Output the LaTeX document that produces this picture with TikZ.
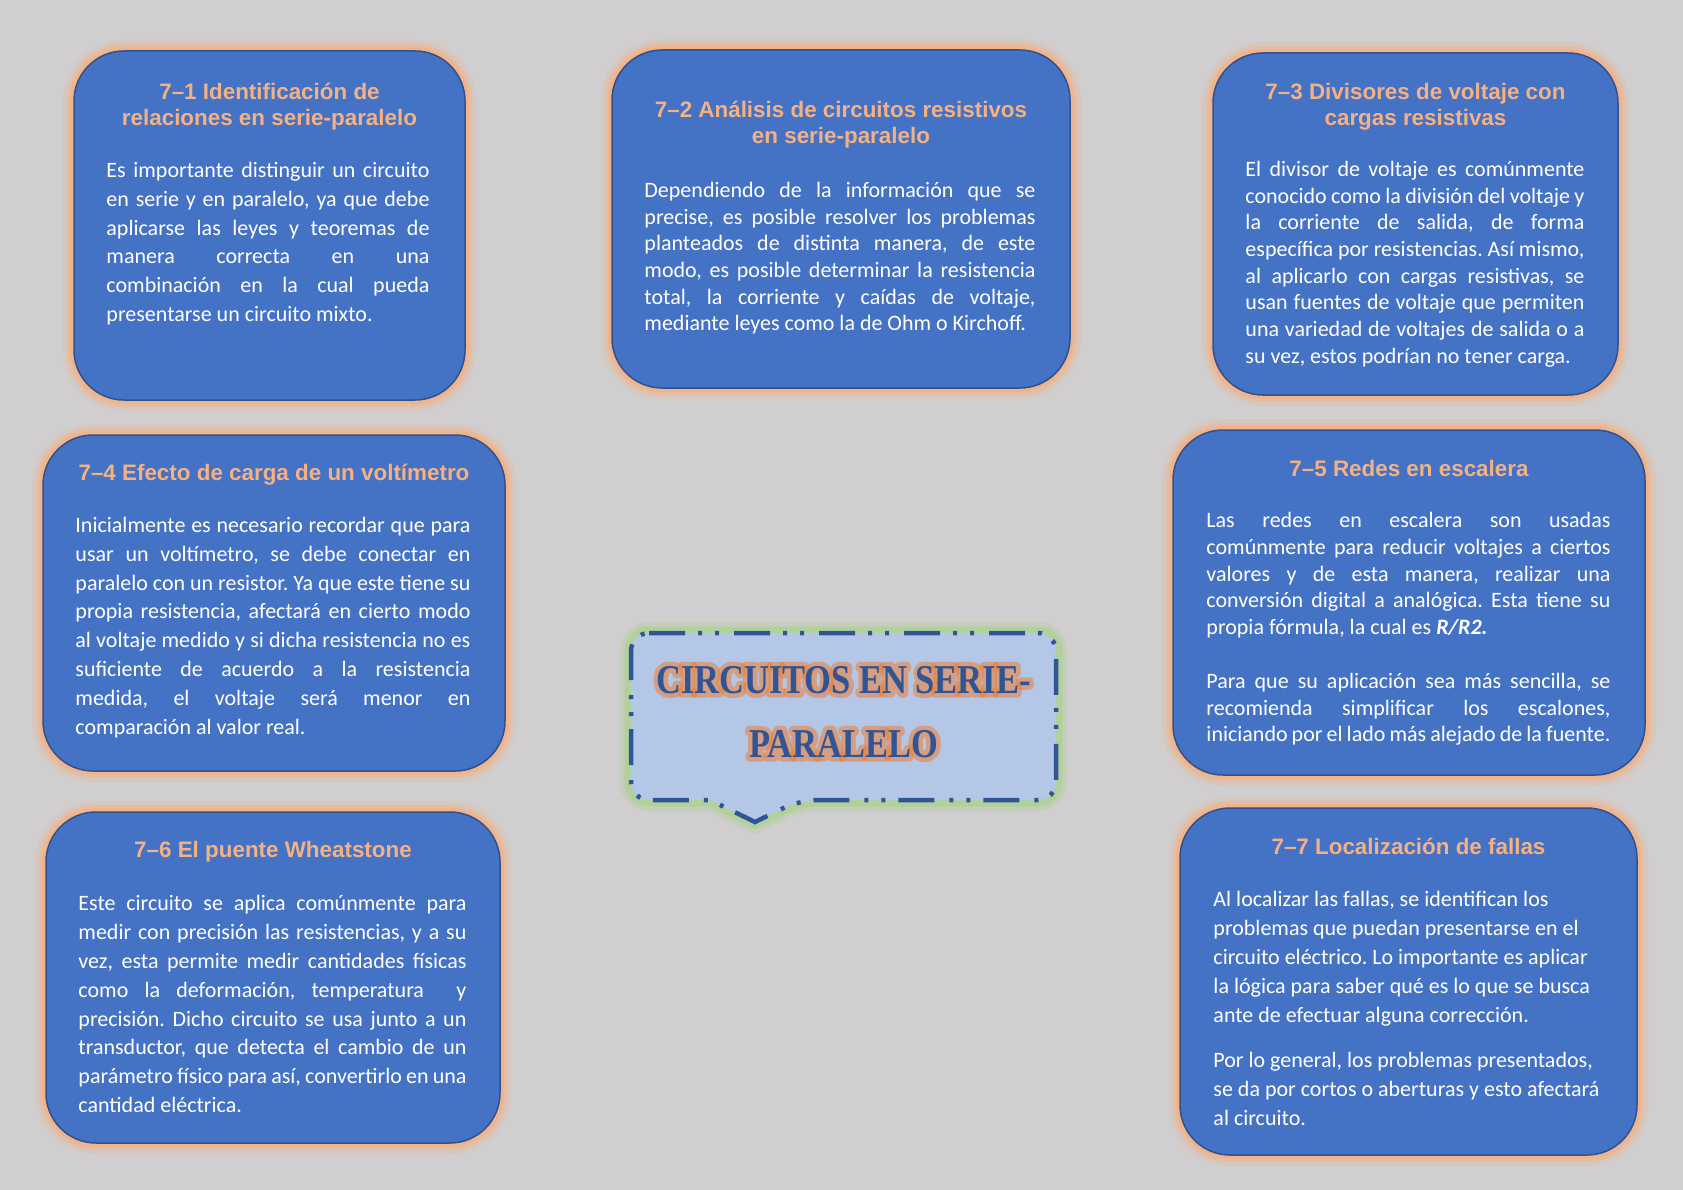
\documentclass[tikz,border=0pt]{standalone}
\usepackage{fontspec}
\setmainfont{Carlito}
\newfontfamily\headfont{Liberation Sans}
\newfontfamily\bannerfont{Liberation Serif Bold}[FakeStretch=0.84]
\newfontfamily\bannerglowfont{Liberation Serif Bold}[FakeStretch=0.84,FakeBold=22]
\usetikzlibrary{positioning}
\definecolor{bgGray}{RGB}{208,206,206}
\definecolor{boxBlue}{RGB}{68,114,196}
\definecolor{boxEdge}{RGB}{47,82,143}
\definecolor{glowOrange}{RGB}{244,177,131}
\definecolor{headPeach}{RGB}{244,177,131}
\definecolor{calloutFill}{RGB}{180,199,231}
\definecolor{calloutEdge}{RGB}{47,85,151}
\definecolor{glowGreen}{RGB}{169,209,142}
\definecolor{bannerOrange}{RGB}{237,125,49}

\newcommand{\jline}[1]{\hbox to\hsize{\strut#1}}
\newcommand{\rline}[1]{\hbox to\hsize{\strut#1\hfil}}
\newcommand{\textlines}[2]{\vbox{\hsize=#1\relax#2}}
\frenchspacing

\begin{document}
\begin{tikzpicture}[x=1pt,y=-1pt,
  topic/.style={rectangle,rounded corners=50pt,fill=boxBlue,draw=boxEdge,
  line width=1.5pt,inner sep=0pt,
  preaction={draw=glowOrange,line width=22pt,draw opacity=.2},
  preaction={draw=glowOrange,line width=14pt,draw opacity=.4},
  preaction={draw=glowOrange,line width=8pt,draw opacity=.8}},
  title/.style={font=\headfont\bfseries\fontsize{22.4}{25.7}\selectfont,
  text=headPeach,align=center,inner sep=0pt},
  body/.style={font={\fontsize{22}{#1}\selectfont},text=white,inner sep=0pt},
  callout/.style={fill=calloutFill,draw=calloutEdge,line width=4.5pt,
  rounded corners=18pt,dash pattern=on 36pt off 13pt on 4pt off 13pt on 4pt off 15pt,
  preaction={draw=glowGreen,solid,line width=22pt,draw opacity=.3},
  preaction={draw=glowGreen,solid,line width=13pt,draw opacity=.7}},
  banner/.style={font=\bannerfont\fontsize{41}{64}\selectfont,text=calloutEdge,
  align=center,anchor=north,inner sep=0pt},
  banner glow/.style={banner,font=\bannerglowfont\fontsize{41}{64}\selectfont,
  text=bannerOrange,text opacity=.55,line join=round}]
\fill[bgGray] (0,0) rectangle (1683,1190);
%------------------------------------------------------------------------
% The seven topics
%------------------------------------------------------------------------
\node[topic,minimum width=391pt,minimum height=349pt] (S1) at (269.5,225.5) {};
\node[topic,minimum width=458pt,minimum height=338pt] (S2) at (841,219) {};
\node[topic,minimum width=405pt,minimum height=342pt] (S3) at (1415.5,224) {};
\node[topic,minimum width=462pt,minimum height=336pt] (S4) at (274,603) {};
\node[topic,minimum width=472pt,minimum height=345pt] (S5) at (1409,602.5) {};
\node[topic,minimum width=454pt,minimum height=331pt] (S6) at (273,977.5) {};
\node[topic,minimum width=457pt,minimum height=347pt] (S7) at (1408.5,981.5) {};

\node[title,below=31pt of S1.north] (T1) {\strut 7–1 Identificación de\\\strut relaciones en serie-paralelo};
\node[title,below=50.5pt of S2.north] (T2) {\strut 7–2 Análisis de circuitos resistivos\\\strut en serie-paralelo};
\node[title,below=29pt of S3.north] (T3) {\strut 7–3 Divisores de voltaje con\\\strut cargas resistivas};
\node[title,below=28pt of S4.north] (T4) {\strut 7–4 Efecto de carga de un voltímetro};
\node[title,below=29pt of S5.north] (T5) {\strut 7–5 Redes en escalera};
\node[title,below=28pt of S6.north] (T6) {\strut 7–6 El puente Wheatstone};
\node[title,below=29pt of S7.north] (T7) {\strut 7–7 Localización de fallas};
%------------------------------------------------------------------------
% The texts
%------------------------------------------------------------------------
\node[body=28.8,below right=106.8pt and 33pt of S1.north west] (P1) {\textlines{323pt}{%
\jline{Es importante distinguir un circuito}
\jline{en serie y en paralelo, ya que debe}
\jline{aplicarse las leyes y teoremas de}
\jline{manera correcta en una}
\jline{combinación en la cual pueda}
\rline{presentarse un circuito mixto.}}};
\node[body=26.7,below right=129.3pt and 33pt of S2.north west] (P2) {\textlines{391pt}{%
\jline{Dependiendo de la información que se}
\jline{precise, es posible resolver los problemas}
\jline{planteados de distinta manera, de este}
\jline{modo, es posible determinar la resistencia}
\jline{total, la corriente y caídas de voltaje,}
\rline{mediante leyes como la de Ohm o Kirchoff.}}};
\node[body=26.7,below right=105.3pt and 33pt of S3.north west] (P3) {\textlines{339pt}{%
\jline{El divisor de voltaje es comúnmente}
\jline{conocido como la división del voltaje y}
\jline{la corriente de salida, de forma}
\jline{específica por resistencias. Así mismo,}
\jline{al aplicarlo con cargas resistivas, se}
\jline{usan fuentes de voltaje que permiten}
\jline{una variedad de voltajes de salida o a}
\rline{su vez, estos podrían no tener carga.}}};
\node[body=28.8,below right=77.8pt and 33pt of S4.north west] (P4) {\textlines{395pt}{%
\jline{Inicialmente es necesario recordar que para}
\jline{usar un voltímetro, se debe conectar en}
\jline{paralelo con un resistor. Ya que este tiene su}
\jline{propia resistencia, afectará en cierto modo}
\jline{al voltaje medido y si dicha resistencia no es}
\jline{suficiente de acuerdo a la resistencia}
\jline{medida, el voltaje será menor en}
\rline{comparación al valor real.}}};
\node[body=26.8,below right=79.2pt and 34pt of S5.north west] (P5) {\textlines{404pt}{%
\jline{Las redes en escalera son usadas}
\jline{comúnmente para reducir voltajes a ciertos}
\jline{valores y de esta manera, realizar una}
\jline{conversión digital a analógica. Esta tiene su}
\rline{propia fórmula, la cual es \textbf{\textit{R/R2.}}}
\vskip\baselineskip
\jline{Para que su aplicación sea más sencilla, se}
\jline{recomienda simplificar los escalones,}
\rline{iniciando por el lado más alejado de la fuente.}}};
\node[body=28.9,below right=78.8pt and 33pt of S6.north west] (P6) {\textlines{388pt}{%
\jline{Este circuito se aplica comúnmente para}
\jline{medir con precisión las resistencias, y a su}
\jline{vez, esta permite medir cantidades físicas}
\jline{como la deformación, temperatura \ y}
\jline{precisión. Dicho circuito se usa junto a un}
\jline{transductor, que detecta el cambio de un}
\jline{parámetro físico para así, convertirlo en una}
\rline{cantidad eléctrica.}}};
\node[body=29,below right=78.6pt and 34pt of S7.north west] (P7) {\textlines{410pt}{%
\rline{Al localizar las fallas, se identifican los}
\rline{problemas que puedan presentarse en el}
\rline{circuito eléctrico. Lo importante es aplicar}
\rline{la lógica para saber qué es lo que se busca}
\rline{ante de efectuar alguna corrección.}
\vskip16pt
\rline{Por lo general, los problemas presentados,}
\rline{se da por cortos o aberturas y esto afectará}
\rline{al circuito.}}};
%------------------------------------------------------------------------
% The central callout
%------------------------------------------------------------------------
\draw[callout] (631,633) -- (1056,633) -- (1056,800) -- (800,800) [sharp corners]
  -- (755,822) -- (710,800) [rounded corners=18pt] -- (631,800) -- cycle;
\node[banner glow] (Cg) at (843.5,648.2) {\strut CIRCUITOS EN SERIE-\\\strut PARALELO};
\node[banner] (C) at (843.5,648.2) {\strut CIRCUITOS EN SERIE-\\\strut PARALELO};

\end{tikzpicture}
\end{document}
